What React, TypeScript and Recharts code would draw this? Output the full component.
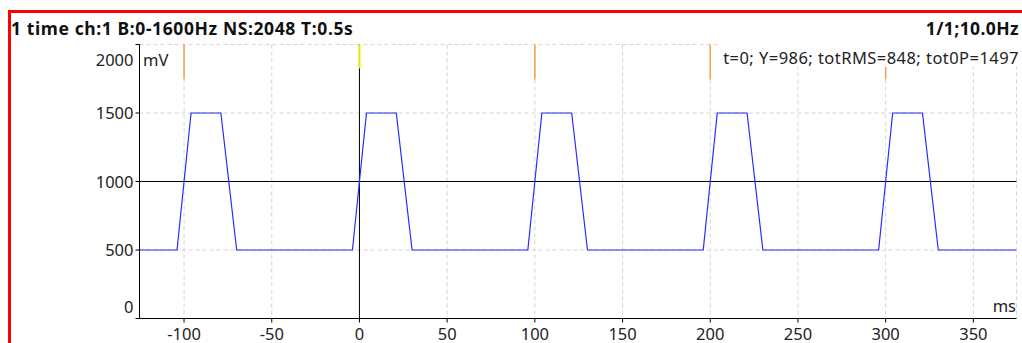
import React from "react";
import {
  LineChart,
  Line,
  XAxis,
  YAxis,
  CartesianGrid,
  ReferenceLine,
} from "recharts";

// waveform vertices (ms, mV)
const times = [-125.4, -104, -96, -79, -70, -4, 4, 21, 30, 96, 104, 121, 130, 196, 204, 221, 230, 296, 304, 321, 330, 374.6];
const values = [500, 500, 1500, 1500, 500, 500, 1500, 1500, 500, 500, 1500, 1500, 500, 500, 1500, 1500, 500, 500, 1500, 1500, 500, 500];

const xTicks = [-100, -50, 0, 50, 100, 150, 200, 250, 300, 350];
const yTicks = [0, 500, 1000, 1500, 2000];
const markerTimes = [-100, 100, 200, 300];

const title = "1 time ch:1 B:0-1600Hz NS:2048 T:0.5s";
const titleRight = "1/1;10.0Hz";
const cursorInfo = "t=0; Y=986; totRMS=848; tot0P=1497";

const FONT = "'Noto Sans', sans-serif";
const FS = 16.5;

const data = times.map((t, i) => ({ t, v: values[i] }));

const YTick = (props: any) => {
  const { x, y, payload } = props;
  const v = payload.value;
  let dy = 6;
  if (v === 2000) dy = 21;
  if (v === 0) dy = -6;
  return (
    <g>
      <text x={x} y={y + dy} textAnchor="end" fontSize={FS} fontFamily={FONT} fill="#222">
        {v}
      </text>
      {v === 2000 && (
        <text x={x + 9.5} y={y + dy} fontSize={FS} fontFamily={FONT} fill="#222">
          mV
        </text>
      )}
    </g>
  );
};

export default function App() {
  return (
    <div style={{ position: "absolute", left: 0, top: 0, width: 1022, height: 343, background: "#fff" }}>
      <LineChart
        width={1022}
        height={343}
        data={data}
        margin={{ top: 44.5, right: 5.5, bottom: 0, left: 0 }}
      >
        <CartesianGrid stroke="#d4d4d4" strokeDasharray="4 3" />
        <XAxis
          dataKey="t"
          type="number"
          domain={[-125.4, 374.6]}
          ticks={xTicks}
          height={24.5}
          stroke="#000"
          tickSize={4}
          tickMargin={6}
          tick={{ fontSize: FS, fontFamily: FONT, fill: "#222" }}
          allowDataOverflow
        />
        <YAxis
          type="number"
          domain={[0, 2000]}
          ticks={yTicks}
          width={139.5}
          stroke="#000"
          tickSize={4}
          tickMargin={2}
          tick={<YTick />}
        />
        <ReferenceLine y={1000} stroke="#000" strokeWidth={1} />
        <ReferenceLine x={0} stroke="#000" strokeWidth={1} />
        {markerTimes.map((m) => (
          <ReferenceLine
            key={m}
            segment={[
              { x: m, y: 2000 },
              { x: m, y: 1745 },
            ]}
            stroke="#f5a04a"
            strokeWidth={1.5}
          />
        ))}
        <ReferenceLine
          segment={[
            { x: 0, y: 2000 },
            { x: 0, y: 1825 },
          ]}
          stroke="#e8e800"
          strokeWidth={2}
        />
        <Line
          dataKey="v"
          type="linear"
          stroke="#2a2aff"
          strokeWidth={1.2}
          dot={false}
          isAnimationActive={false}
        />
      </LineChart>
      <svg
        width={1022}
        height={343}
        style={{ position: "absolute", left: 0, top: 0, pointerEvents: "none" }}
      >
        <rect x={8} y={10} width={1014} height={3} fill="#ff0000" />
        <rect x={8} y={10} width={3} height={333} fill="#ff0000" />
        <text x={11} y={35} fontSize={17.5} letterSpacing={0.6} fontWeight="bold" fontFamily={FONT} fill="#111">
          {title}
        </text>
        <text x={1019} y={35} textAnchor="end" fontSize={17.5} letterSpacing={0.4} fontWeight="bold" fontFamily={FONT} fill="#111">
          {titleRight}
        </text>
        <rect x={718} y={43} width={304} height={24} fill="#fff" />
        <text x={1019} y={64} textAnchor="end" fontSize={FS} letterSpacing={0.45} fontFamily={FONT} fill="#222">
          {cursorInfo}
        </text>
        <text x={1016} y={311.5} textAnchor="end" fontSize={FS} fontFamily={FONT} fill="#222">
          ms
        </text>
      </svg>
    </div>
  );
}
